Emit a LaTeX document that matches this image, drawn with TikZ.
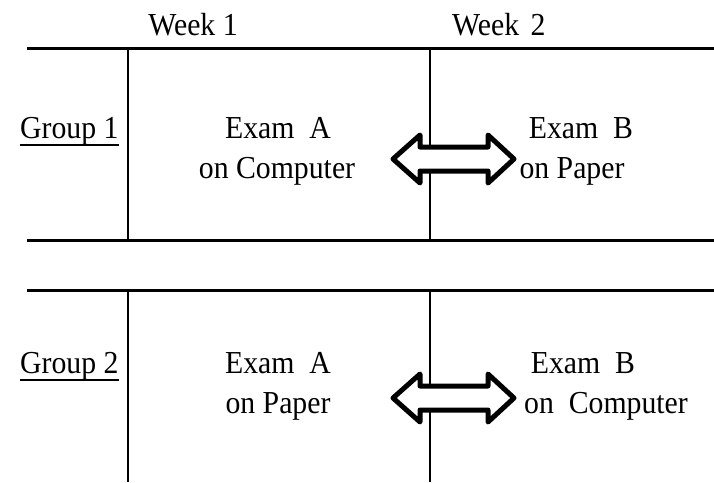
\documentclass[tikz,border=0pt]{standalone}
\usepackage{fontspec}
\setmainfont{Liberation Serif}[FakeStretch=0.93]
\begin{document}
\begin{tikzpicture}[x=1pt,y=-1pt,
  rule/.style={line width=3pt},
  lbl/.style={inner sep=0pt,font=\fontsize{32}{38}\selectfont},
  dblarrow/.style={line width=5pt,line join=round,fill=white,draw=black}]
\useasboundingbox (0,0) rectangle (714,482);
% table lines
\coordinate (t1l) at (27,48);  \coordinate (t1r) at (714,48);
\coordinate (b1l) at (27,240); \coordinate (b1r) at (714,240);
\coordinate (t2l) at (27,290); \coordinate (t2r) at (714,290);
\coordinate (v1a) at (128,48);  \coordinate (v1b) at (128,240);
\coordinate (v2a) at (430,48);  \coordinate (v2b) at (430,240);
\coordinate (v3a) at (128,290); \coordinate (v3b) at (128,482);
\coordinate (v4a) at (430,290); \coordinate (v4b) at (430,482);
\draw[rule] (t1l) -- (t1r);
\draw[rule] (b1l) -- (b1r);
\draw[rule] (t2l) -- (t2r);
\draw[line width=2.5pt] (v1a) -- (v1b);
\draw[line width=2.5pt] (v2a) -- (v2b);
\draw[line width=2.5pt] (v3a) -- (v3b);
\draw[line width=2.5pt] (v4a) -- (v4b);
% headers
\node[lbl,anchor=base] (w1) at (193,35) {Week 1};
\node[lbl,anchor=base west] (w2) at (452,35) {Week\hspace{4pt} 2};
% group labels
\node[lbl,anchor=base west] (g1) at (20,138) {Group 1};
\draw[line width=1.5pt] ([yshift=-7pt]g1.base west) -- ([yshift=-7pt]g1.base east);
\node[lbl,anchor=base west] (g2) at (20,373) {Group 2};
\draw[line width=1.5pt] ([yshift=-7pt]g2.base west) -- ([yshift=-7pt]g2.base east);
% arrows
\foreach \cy/\nm in {159/a1,398/a2}{
  \draw[dblarrow] (393,\cy) -- (420,\cy-24) -- (420,\cy-12) -- (488,\cy-12) -- (488,\cy-24)
    -- (514,\cy) -- (488,\cy+24) -- (488,\cy+12) -- (420,\cy+12) -- (420,\cy+24) -- cycle;
}
% cell texts
\node[lbl,anchor=base] (ea1) at (278,138) {Exam\ \ A};
\node[lbl,anchor=base] (oc1) at (277,178) {on Computer};
\node[lbl,anchor=base] (eb1) at (581,138) {Exam\ \ B};
\node[lbl,anchor=base] (op1) at (572,178) {on Paper};
\node[lbl,anchor=base] (ea2) at (278,373) {Exam\ \ A};
\node[lbl,anchor=base] (op2) at (278,413) {on Paper};
\node[lbl,anchor=base] (eb2) at (583,373) {Exam\ \ B};
\node[lbl,anchor=base] (oc2) at (606,413) {on\ \ Computer};
\end{tikzpicture}
\end{document}
